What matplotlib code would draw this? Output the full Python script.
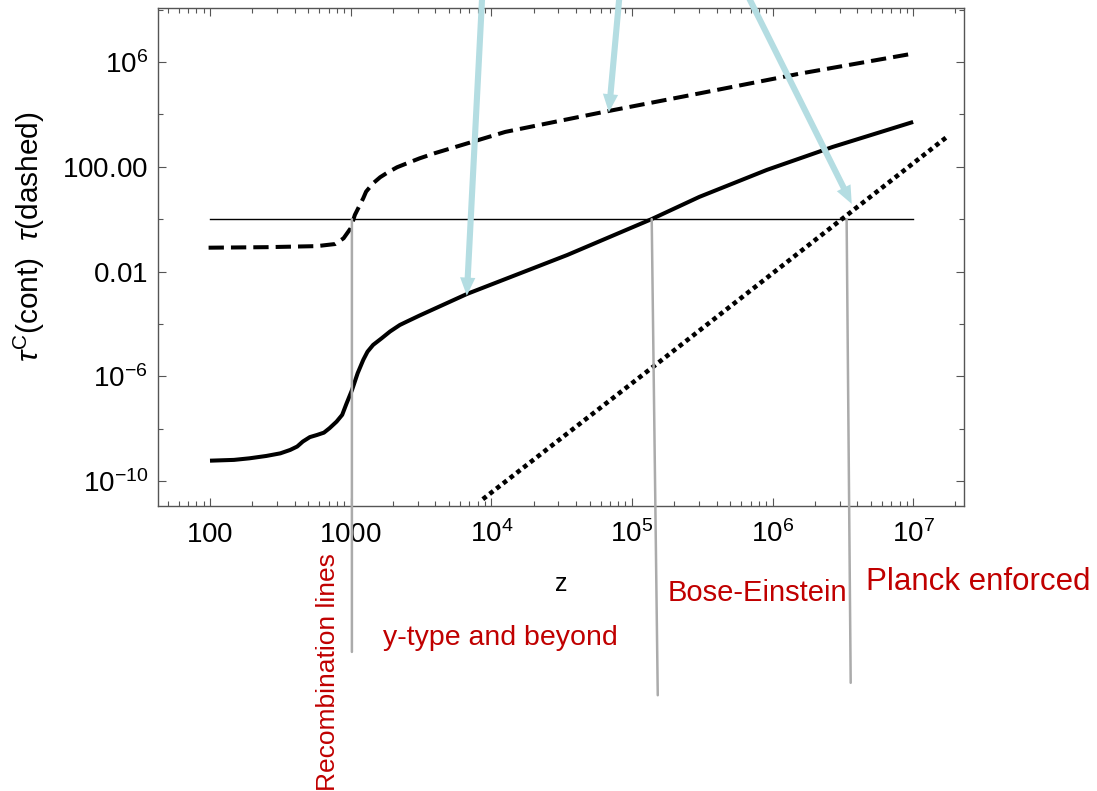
import numpy as np
import matplotlib
matplotlib.use("Agg")
import matplotlib.pyplot as plt
import matplotlib.ticker as mticker
from matplotlib import transforms
from matplotlib.patches import ConnectionPatch

plt.rcParams["font.family"] = ["Liberation Sans", "DejaVu Sans"]
plt.rcParams["mathtext.fontset"] = "custom"
plt.rcParams["mathtext.rm"] = "Liberation Sans"
plt.rcParams["mathtext.it"] = "Liberation Sans:italic"
plt.rcParams["mathtext.bf"] = "Liberation Sans:bold"

# -------------------------------------------------------
# DATA (log10 z and log10 tau)
# -------------------------------------------------------
# solid: tau^C (continuum)
solid_logz = [2.00, 2.17, 2.28, 2.40, 2.50, 2.57, 2.62, 2.66, 2.71, 2.76,
              2.81, 2.85, 2.90, 2.94, 2.97, 3.01, 3.05, 3.09, 3.12, 3.16,
              3.22, 3.28, 3.35, 3.40, 3.49, 3.83, 4.54, 5.14, 5.48, 5.96,
              6.43, 7.00]
solid_logtau = [-9.22, -9.19, -9.13, -9.04, -8.94, -8.81, -8.68, -8.49, -8.32, -8.24,
                -8.15, -7.98, -7.73, -7.47, -7.05, -6.52, -5.88, -5.37, -5.06, -4.80,
                -4.55, -4.29, -4.04, -3.91, -3.68, -2.85, -1.37, 0.00, 0.85, 1.88,
                2.76, 3.71]

# dashed: tau (Thomson)
dashed_logz = [1.99, 2.40, 2.76, 2.89, 2.95, 3.00, 3.03, 3.09, 3.11, 3.16,
               3.21, 3.26, 3.33, 3.40, 3.49, 3.60, 4.10, 4.77, 5.48, 6.19,
               7.00]
dashed_logtau = [-1.09, -1.07, -1.03, -0.95, -0.73, -0.35, 0.16, 0.80, 1.05, 1.37,
                 1.60, 1.77, 1.98, 2.13, 2.32, 2.52, 3.33, 4.06, 4.80, 5.55,
                 6.32]

# dotted
dotted_logz = [3.94, 5.15, 7.25]
dotted_logtau = [-10.69, -5.64, 3.18]

# horizontal reference line tau = 1
tau_level = 1.0
level_z = [100, 1e7]

# axis ticks
xticks = [1e2, 1e3, 1e4, 1e5, 1e6, 1e7]
xticklabels = ["$100$", "$1000$", "$10^{4}$", "$10^{5}$", "$10^{6}$", "$10^{7}$"]
yticks = [1e-10, 1e-6, 1e-2, 1e2, 1e6]
yticklabels = [r"$10^{-10}$", r"$10^{-6}$", "$0.01$", "$100.00$", "$10^{6}$"]
yminor = [1e-8, 1e-4, 1.0, 1e4, 1e8]

# region markers: (z at tau=1, z at bottom end, bottom in axes fraction)
marker_top_logz = [3.009, 5.141, 6.527]
marker_bot_logz = [3.009, 5.184, 6.556]
marker_bot_frac = [-0.293, -0.380, -0.355]

# arrow tips (data) and tails (figure pixels, above the picture)
arrow_tip_z = [6.7e3, 6.86e4, 3.66e6]
arrow_tip_tau = [1.2e-3, 1.2e4, 3.8]
arrow_tail_px = [(482.5, 801), (620, 801), (745, 801)]

RED = "#c00000"
FRAME = "#555555"

# -------------------------------------------------------
# FIGURE
# -------------------------------------------------------
fig = plt.figure(figsize=(10.97, 7.91), dpi=100)
ax = fig.add_axes([0.1440, 0.3603, 0.7348, 0.6296])

ax.set_xscale("log")
ax.set_yscale("log")

z = 10 ** np.array(solid_logz)
ax.plot(z, 10 ** np.array(solid_logtau), color="black", lw=2.9,
        solid_capstyle="butt", solid_joinstyle="round")

z = 10 ** np.array(dashed_logz)
ln, = ax.plot(z, 10 ** np.array(dashed_logtau), color="black", lw=2.9,
              dash_capstyle="butt", dash_joinstyle="round")
ln.set_dashes([3.8, 1.75])

z = 10 ** np.array(dotted_logz)
ln, = ax.plot(z, 10 ** np.array(dotted_logtau), color="black", lw=3.3, dash_capstyle="butt")
ln.set_dashes([1.0, 0.87])

ax.plot(level_z, [tau_level, tau_level], color="black", lw=1.0)

ax.set_xlim(10 ** 1.630, 10 ** 7.362)
ax.set_ylim(10 ** -10.95, 10 ** 8.06)

# ticks
ax.set_xticks(xticks, xticklabels)
ax.xaxis.set_minor_locator(mticker.LogLocator(base=10, subs=np.arange(2, 10), numticks=30))
ax.xaxis.set_minor_formatter(mticker.NullFormatter())
ax.set_yticks(yticks, yticklabels)
ax.yaxis.set_minor_locator(mticker.FixedLocator(yminor))
ax.yaxis.set_minor_formatter(mticker.NullFormatter())

ax.tick_params(which="both", direction="in", top=True, right=True,
               color=FRAME, width=0.8, labelsize=20)
ax.tick_params(which="major", length=5.8)
ax.tick_params(which="minor", length=3.6)
ax.tick_params(axis="x", pad=25.9)
ax.tick_params(axis="y", pad=7.2)
for lbl in ax.get_xticklabels():
    lbl.set_verticalalignment("baseline")

for sp in ax.spines.values():
    sp.set_color(FRAME)
    sp.set_linewidth(1.0)

ax.set_xlabel("z", fontsize=18)
ax.xaxis.set_label_coords(0.5, -0.1325)
ax.set_ylabel(r"$\tau^{\mathrm{C}}$(cont)  $\tau$(dashed)", fontsize=21.5)
ax.yaxis.set_label_coords(-0.138, 0.54)

# gray region markers dropping below the axes
blend = transforms.blended_transform_factory(ax.transData, ax.transAxes)
for zt, zb, fb in zip(marker_top_logz, marker_bot_logz, marker_bot_frac):
    cp = ConnectionPatch(xyA=(10 ** zt, tau_level), coordsA=ax.transData,
                         xyB=(10 ** zb, fb), coordsB=blend,
                         color="#ababab", lw=1.8, zorder=1)
    cp.set_clip_on(False)
    fig.add_artist(cp)

# light blue arrows coming from above
for zt, tt, tail in zip(arrow_tip_z, arrow_tip_tau, arrow_tail_px):
    ax.annotate("", xy=(zt, tt), xycoords="data",
                xytext=tail, textcoords="figure pixels",
                annotation_clip=False,
                arrowprops=dict(arrowstyle="simple,head_length=0.65,head_width=0.55,tail_width=0.22",
                                mutation_scale=20, fc="#b4dde2", ec="none",
                                shrinkA=0, shrinkB=0))

# red region labels
fig.text(328 / 1097, 1 - 553 / 791, "Recombination lines", color=RED, fontsize=19,
         rotation=90, ha="center", va="top")
fig.text(383 / 1097, 1 - 638 / 791, "y-type and beyond", color=RED, fontsize=20.5,
         ha="left", va="center")
fig.text(668 / 1097, 1 - 593 / 791, "Bose-Einstein", color=RED, fontsize=21,
         ha="left", va="center")
fig.text(866 / 1097, 1 - 582 / 791, "Planck enforced", color=RED, fontsize=22.5,
         ha="left", va="center")

fig.savefig("out.png", dpi=100)
